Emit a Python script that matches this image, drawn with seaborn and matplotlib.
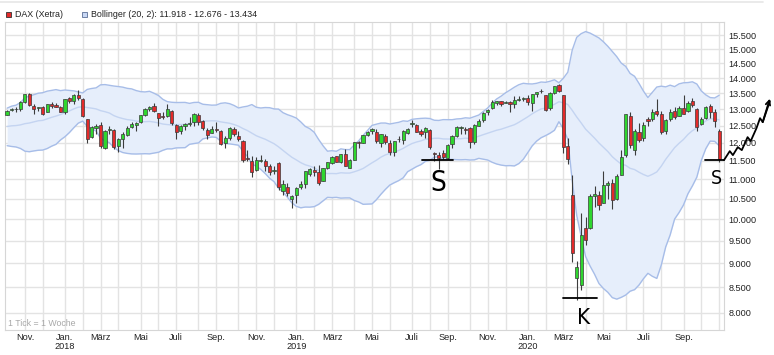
import numpy as np
import pandas as pd
import matplotlib
matplotlib.use("Agg")
import matplotlib.pyplot as plt
import seaborn as sns
from matplotlib.lines import Line2D
from matplotlib.patches import Rectangle
from matplotlib.ticker import FixedLocator, FuncFormatter, NullLocator

# DAX (Xetra) weekly candles, week ending Fri 2017-10-06 .. 2020-10-30
first_week = "2017-10-06"

# closes of the 19 weeks before the first candle (only for the bollinger warm-up)
warmup_close = [12602, 12823, 12816, 12753, 12733, 12325, 12389, 12631, 12240, 12163,
                12298, 12014, 12165, 12168, 12142, 12304, 12519, 12592, 12829]

opens = [
    # 2017
    12830, 12960, 12995, 13000, 13230, 13480, 13110, 13020, 13070, 12900, 13160, 13130, 13070,
    # 2018
    12900, 13340, 13250, 13450, 13330, 12690, 12170, 12430, 12510, 11850,
    12380, 12370, 11900, 12100, 12230, 12450, 12520, 12600, 12830, 13010,
    13090, 12870, 12780, 12790, 12950, 12530, 12330, 12500, 12560, 12600,
    12820, 12650, 12360, 12290, 12410, 12330, 12000, 12150, 12400, 12200,
    12060, 11560, 11500, 11250, 11480, 11490, 11360, 11210, 11440, 10700,
    10810, 10500,
    # 2019
    10600, 10800, 10880, 11140, 11250, 11190, 10960, 11310, 11430, 11620,
    11450, 11680, 11300, 11520, 12030, 12000, 12220, 12350, 12300, 12000,
    12200, 12000, 11740, 12100, 12070, 12290, 12560, 12520, 12350, 12300,
    12360, 11720, 11660, 11700, 11580, 11960, 12200, 12420, 12400, 12420,
    12030, 12480, 12660, 12910, 13030, 13200, 13250, 13190, 13230, 13160,
    13300, 13310,
    # 2020
    13340, 13200, 13490, 13560, 13430, 13040, 13510, 13760, 13440, 11900,
    10600, 8700, 8550, 9800, 9800, 10560, 10600, 10400, 10850, 10900,
    10500, 11120, 11650, 12800, 11800, 12300, 12150, 12700, 12700, 12950,
    12850, 12350, 12700, 12950, 12800, 13050, 12950, 13250, 13000, 12550,
    12730, 13100, 12900, 12350,
]

highs = [
    12975, 13030, 13075, 13245, 13480, 13525, 13150, 13080, 13110, 13160, 13210, 13190, 13110,
    13325, 13380, 13470, 13597, 13350, 12710, 12500, 12540, 12600, 12360,
    12480, 12400, 12150, 12300, 12500, 12610, 12610, 12830, 13020, 13110,
    13200, 12880, 12900, 13170, 12970, 12560, 12520, 12580, 12750, 12880,
    12870, 12660, 12420, 12480, 12600, 12380, 12180, 12450, 12460, 12350,
    12090, 11780, 11620, 11590, 11650, 11550, 11420, 11350, 11470, 10980,
    10900, 10600,
    10800, 10950, 11220, 11300, 11340, 11390, 11300, 11470, 11620, 11640,
    11690, 11820, 11550, 12020, 12060, 12230, 12330, 12440, 12390, 12260,
    12260, 12090, 12060, 12190, 12360, 12420, 12660, 12560, 12410, 12450,
    12390, 11750, 11750, 11790, 11950, 12230, 12480, 12500, 12460, 12450,
    12540, 12690, 12910, 12990, 13290, 13260, 13250, 13270, 13260, 13425,
    13400, 13380,
    13430, 13490, 13550, 13640, 13460, 13530, 13750, 13795, 13450, 12130,
    11100, 9050, 10150, 10050, 10620, 10820, 10700, 11230, 10950, 11000,
    11130, 11780, 12850, 12900, 12400, 12570, 12620, 12760, 13000, 13310,
    12930, 12700, 13000, 13060, 13100, 13460, 13250, 13340, 13050, 12750,
    13100, 13150, 13000, 12400,
]

lows = [
    12810, 12930, 12920, 12950, 13200, 13100, 12860, 12950, 12820, 12900, 13030, 13060, 12900,
    12850, 13180, 13170, 13280, 12750, 12000, 12130, 12250, 11860, 11830,
    12260, 11830, 11730, 11860, 12180, 12430, 12340, 12580, 12790, 12950,
    12900, 12500, 12700, 12750, 12530, 12100, 12240, 12370, 12500, 12500,
    12530, 12380, 12100, 12280, 12300, 11930, 11860, 12080, 12180, 12050,
    11460, 11500, 11050, 11230, 11470, 11230, 11100, 11130, 10730, 10600,
    10580, 10280,
    10390, 10750, 10780, 11080, 11080, 10860, 10960, 11270, 11420, 11450,
    11430, 11350, 11300, 11510, 11850, 11990, 12180, 12240, 11980, 11870,
    11950, 11660, 11620, 12010, 11970, 12240, 12470, 12300, 12190, 12140,
    11810, 11500, 11260, 11530, 11530, 11860, 12170, 12260, 12250, 11860,
    11950, 12480, 12600, 12810, 13000, 13140, 13110, 13180, 12900, 13050,
    13240, 13270,
    13130, 12950, 13380, 13500, 12950, 12960, 13470, 13540, 11720, 11400,
    9040, 8256, 8440, 9400, 9780, 10300, 10220, 10400, 10500, 10250,
    10480, 11100, 11590, 11850, 11650, 12020, 12050, 12490, 12650, 12800,
    12250, 12250, 12650, 12700, 12800, 12840, 12900, 13080, 12340, 12530,
    12700, 12730, 12450, 11450,
]

closes = [
    12956, 12992, 12991, 13218, 13479, 13127, 12994, 13060, 12861, 13153, 13104, 13073, 12918,
    13320, 13245, 13434, 13340, 12785, 12107, 12452, 12483, 11914, 12346,
    12390, 11886, 12097, 12241, 12442, 12540, 12580, 12820, 13001, 13077,
    12938, 12724, 12767, 13011, 12580, 12306, 12496, 12541, 12561, 12860,
    12616, 12425, 12211, 12394, 12364, 11960, 12124, 12431, 12247, 12111,
    11524, 11554, 11201, 11519, 11529, 11341, 11193, 11257, 10788, 10866,
    10634, 10559,
    10768, 10888, 11205, 11282, 11181, 10907, 11300, 11458, 11602, 11458,
    11686, 11364, 11526, 12010, 11999, 12222, 12315, 12413, 12060, 12239,
    12011, 11727, 12045, 12096, 12340, 12399, 12568, 12323, 12260, 12419,
    11872, 11694, 11563, 11612, 11939, 12192, 12469, 12468, 12381, 12013,
    12512, 12634, 12895, 12961, 13229, 13242, 13164, 13236, 13167, 13283,
    13319, 13337,
    13219, 13483, 13526, 13577, 12982, 13514, 13745, 13579, 11890, 11542,
    9232, 8929, 9633, 9526, 10565, 10626, 10336, 10861, 10904, 10465,
    11074, 11587, 12848, 11949, 12331, 12089, 12528, 12633, 12920, 12838,
    12313, 12675, 12901, 12765, 13033, 12843, 13203, 13116, 12469, 12689,
    13051, 12909, 12646, 11556,
]

y_ticks = list(range(8000, 15501, 500))
month_names = {1: "Jan.", 3: "März", 5: "Mai", 7: "Juli", 9: "Sep.", 11: "Nov."}
legend_dax = "DAX (Xetra)"
legend_boll = "Bollinger (20, 2): 11.918 - 12.676 - 13.434"

# hand-drawn marks (week index, price)
s1_line_x, s1_line_y = [93.2, 100.2], [11515, 11515]
s1_text = (97.0, 10900)
k_line_x, k_line_y = [124.9, 132.5], [8290, 8290]
k_text = (129.6, 7905)
s2_line_x, s2_line_y = [156.8, 161.1], [11515, 11515]
s2_text = (159.5, 11030)
zig_x = [161.1, 162.4, 163.1, 164.2, 165.1, 166.4, 167.1, 168.4, 169.2, 169.8, 171.4]
zig_y = [11513, 11762, 11650, 11875, 11790, 12160, 12046, 12424, 12723, 12603, 13248]

# ---------------------------------------------------------------------------
n = len(closes)
x = np.arange(n)
dates = pd.date_range(first_week, periods=n, freq="W-FRI")

all_close = pd.Series(warmup_close + closes, dtype=float)
mid = all_close.rolling(20).mean()
sd = all_close.rolling(20).std(ddof=0)
skip = len(warmup_close)
band_mid = mid.iloc[skip:].values
band_up = (mid + 2 * sd).iloc[skip:].values
band_lo = (mid - 2 * sd).iloc[skip:].values

sns.set_style("white")
plt.rcParams["font.family"] = ["Liberation Sans", "DejaVu Sans"]

W, H = 774, 355
fig = plt.figure(figsize=(W / 100, H / 100), dpi=100)
ax = fig.add_axes([5 / W, 25 / H, 719 / W, 308 / H])

# thin frame line along the very top of the widget
fig.add_artist(Line2D([0, 763 / W], [1 - 1.5 / H, 1 - 1.5 / H], transform=fig.transFigure,
                      color="#e6e6e6", lw=1.2))

# bollinger band
ax.fill_between(x, band_lo, band_up, color="#e6eefb", lw=0, zorder=1)
sns.lineplot(x=x, y=band_up, color="#a7bde8", lw=1, ax=ax, legend=False, zorder=2)
sns.lineplot(x=x, y=band_lo, color="#a7bde8", lw=1, ax=ax, legend=False, zorder=2)
sns.lineplot(x=x, y=band_mid, color="#c4d4f1", lw=1, ax=ax, legend=False, zorder=2)

# candles
o = np.array(opens, dtype=float)
c = np.array(closes, dtype=float)
up = c >= o
ax.vlines(x, lows, highs, color="#3c3c3c", lw=0.8, zorder=3)
ax.bar(x, np.maximum(np.abs(c - o), 8), bottom=np.minimum(o, c), width=0.72,
       color=np.where(up, "#2fd62f", "#e32a2a"), edgecolor="#3a3a3a", lw=0.5, zorder=4)

# axes
ax.set_yscale("log")
ax.set_ylim(7680, 16000)
ax.set_xlim(-0.47, 161.1)
ax.yaxis.set_major_locator(FixedLocator(y_ticks))
ax.yaxis.set_minor_locator(NullLocator())
ax.yaxis.set_major_formatter(FuncFormatter(lambda v, p: f"{v:,.0f}".replace(",", ".")))
ax.yaxis.tick_right()

months = pd.date_range("2017-11-01", "2020-11-01", freq="MS")
month_idx = np.searchsorted((dates + pd.Timedelta(days=2)).values, months.values)
labels = []
for m, i in zip(months, month_idx):
    lab = month_names.get(m.month, "")
    if m.month == 1:
        lab += f"\n{m.year}"
    if i >= n - 1:
        lab = ""
    labels.append(lab)
ax.set_xticks(month_idx)
ax.set_xticklabels(labels, linespacing=1.05)
ax.xaxis.set_minor_locator(NullLocator())

ax.tick_params(axis="both", length=0, labelsize=6.6, colors="#222222")
ax.tick_params(axis="x", pad=2)
ax.tick_params(axis="y", pad=3)
ax.grid(True, color="#e3e3e3", lw=1)
ax.set_axisbelow(True)
for sp in ax.spines.values():
    sp.set_color("#d6d6d6")
    sp.set_linewidth(0.8)

ax.text(0.004, 0.008, "1 Tick = 1 Woche", transform=ax.transAxes, fontsize=6.3,
        color="#a8a8a8", ha="left", va="bottom")

# legend above the plot
fig.patches.append(Rectangle((6 / W, (H - 17) / H), 5 / W, 5 / H, transform=fig.transFigure,
                             facecolor="#e32a2a", edgecolor="#333333", lw=0.6))
fig.text(15 / W, (H - 14.5) / H, legend_dax, fontsize=6.4, va="center", ha="left", color="#222222")
fig.patches.append(Rectangle((82 / W, (H - 17) / H), 5 / W, 5 / H, transform=fig.transFigure,
                             facecolor="#c9d8f5", edgecolor="#5b6f96", lw=0.6))
fig.text(91 / W, (H - 14.5) / H, legend_boll, fontsize=6.4, va="center", ha="left", color="#222222")

# hand-drawn support marks
pen = dict(color="black", lw=1.3, clip_on=False, zorder=6, solid_capstyle="round")
ax.plot(s1_line_x, s1_line_y, **pen)
ax.plot(k_line_x, k_line_y, **pen)
ax.plot(s2_line_x, s2_line_y, **pen)
ax.plot(zig_x, zig_y, **pen)
ax.annotate("", xy=(zig_x[-1], zig_y[-1] * 1.006), xytext=(zig_x[-2], zig_y[-2]),
            arrowprops=dict(arrowstyle="->", color="black", lw=1.3, mutation_scale=8,
                            shrinkA=0, shrinkB=0), annotation_clip=False, zorder=6)
hand = dict(color="black", ha="center", va="center", clip_on=False, zorder=6,
            family=["DejaVu Sans"], fontweight="normal", fontstretch="condensed")
ax.text(*s1_text, "S", fontsize=20, **hand)
ax.text(*k_text, "K", fontsize=16, **hand)
ax.text(*s2_text, "S", fontsize=14, **hand)

fig.savefig("out.png", dpi=100)
